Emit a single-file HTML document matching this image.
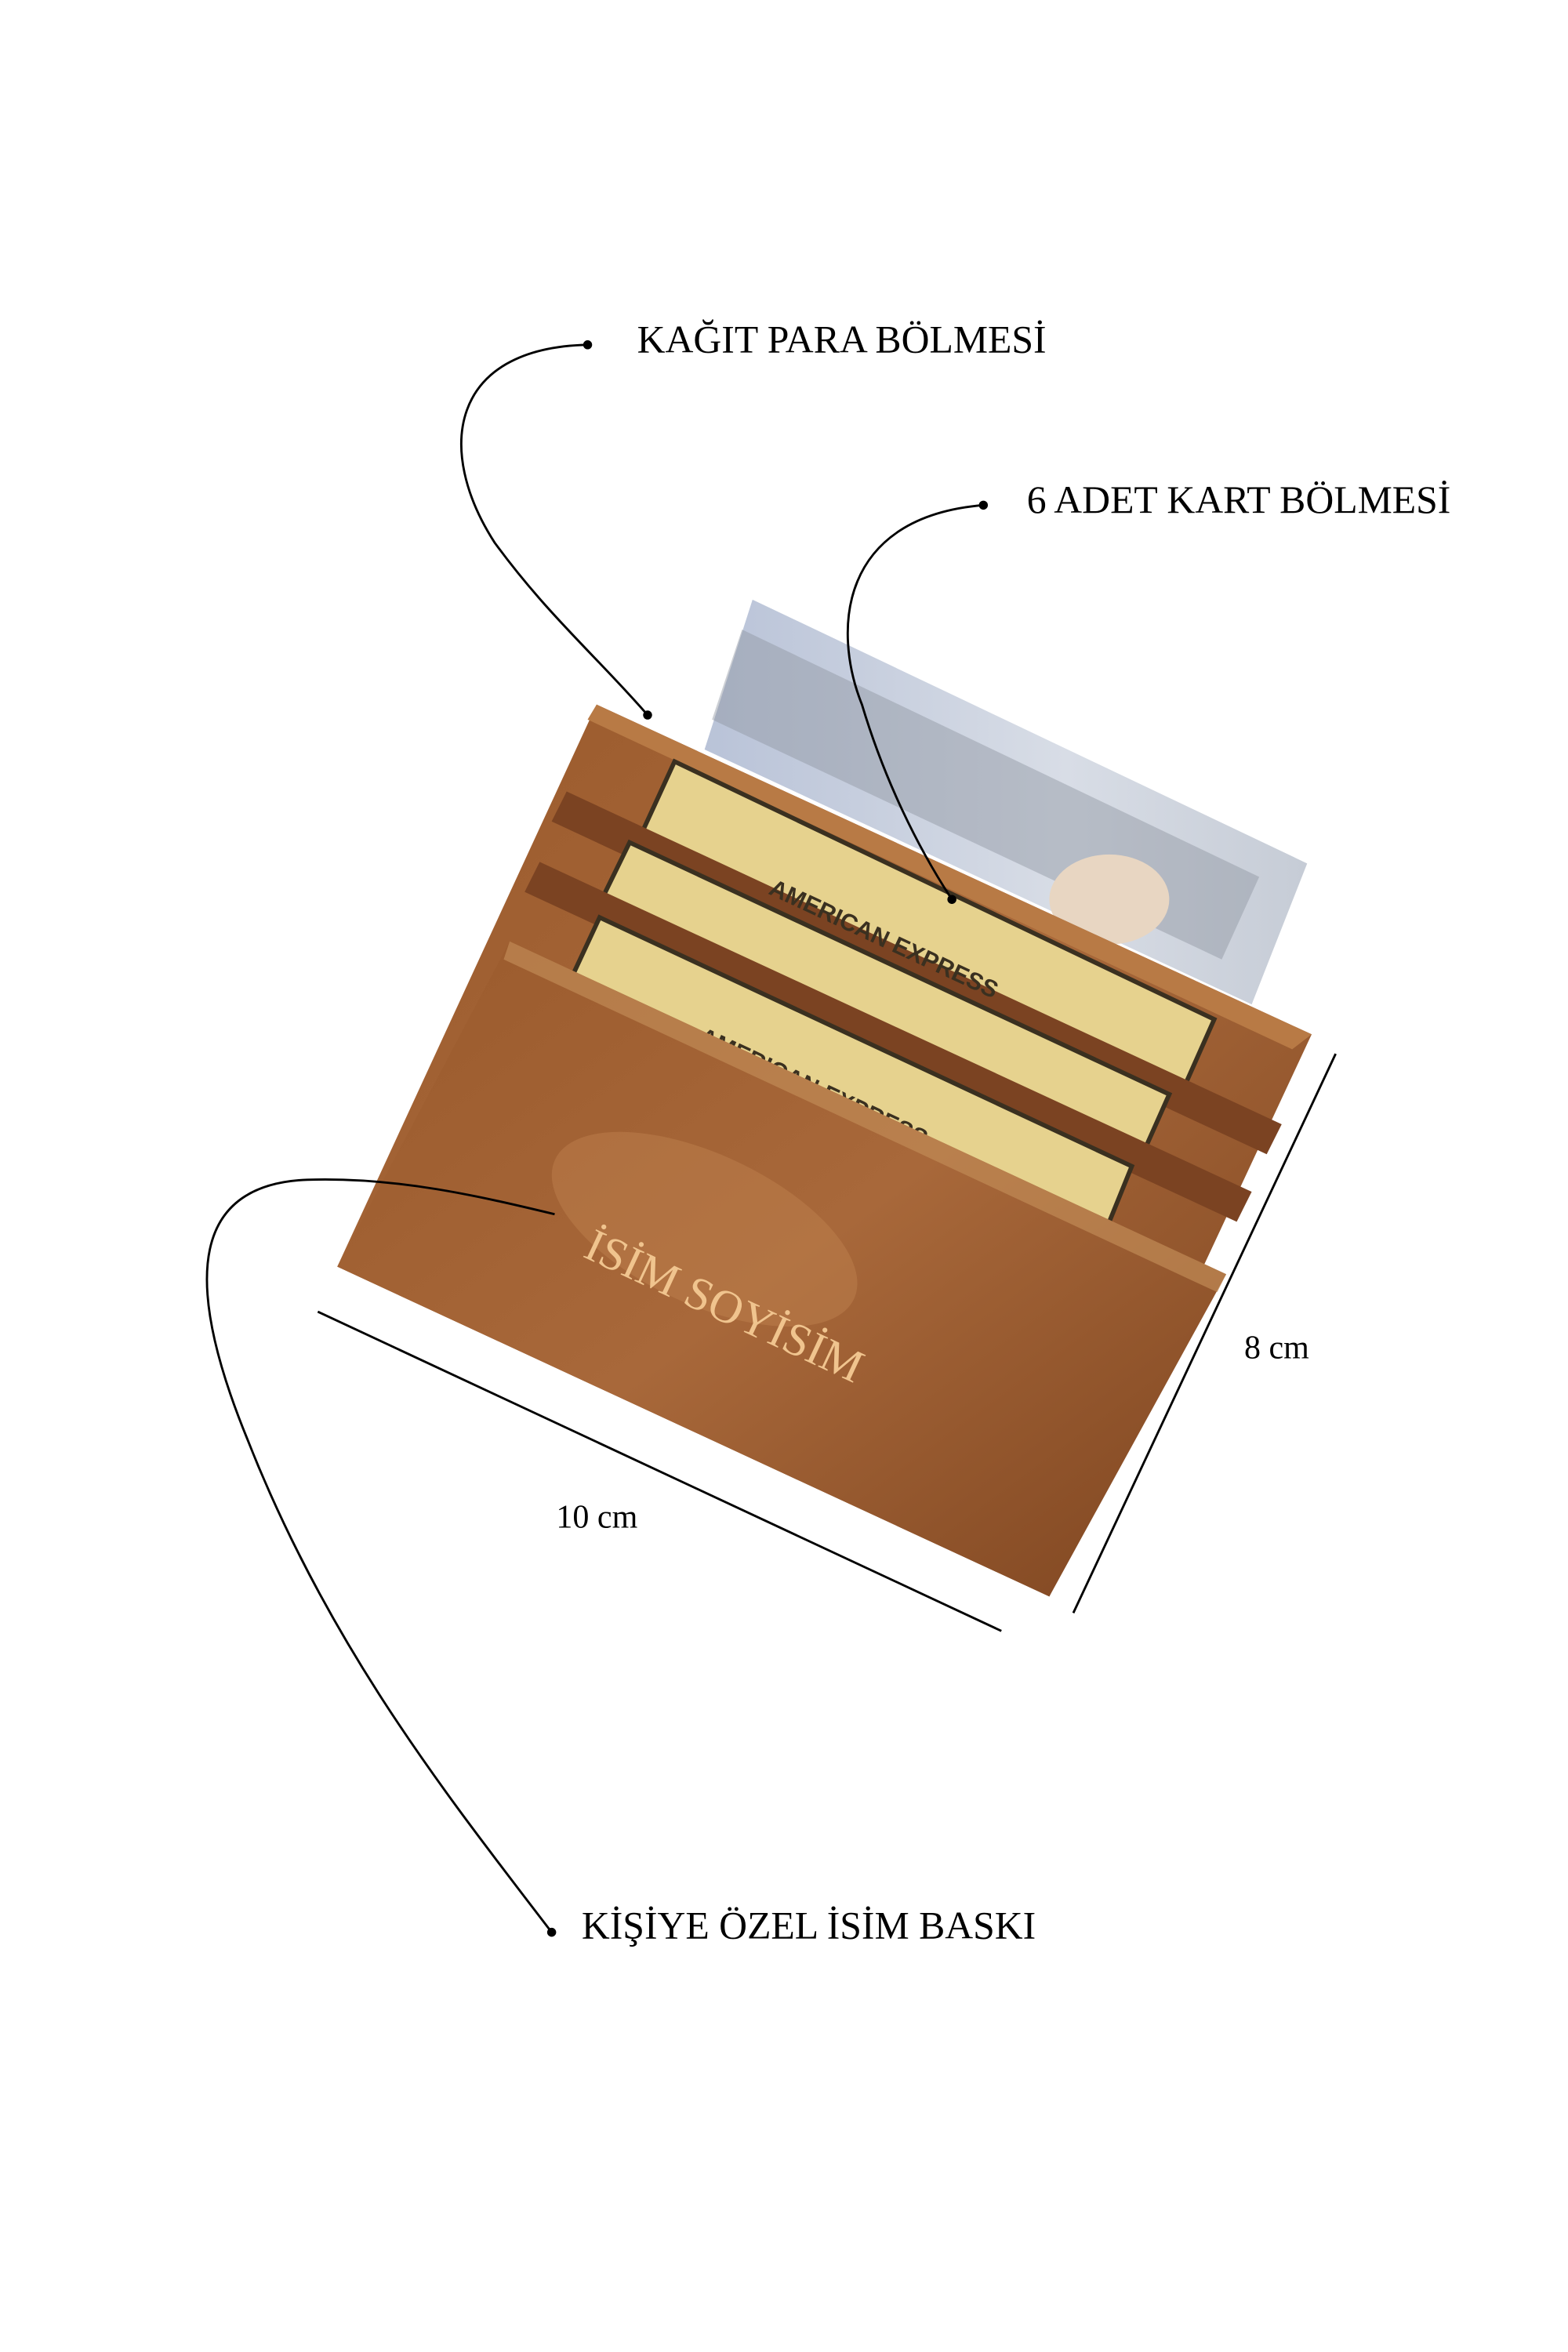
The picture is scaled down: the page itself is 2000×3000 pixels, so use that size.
<!DOCTYPE html>
<html><head><meta charset="utf-8"><style>
html,body{margin:0;padding:0;background:#fff;width:2000px;height:3000px;overflow:hidden}
svg{display:block}
text{font-family:"Liberation Serif",serif}
</style></head><body>
<svg width="2000" height="3000" viewBox="0 0 1046 1569" preserveAspectRatio="none" xmlns="http://www.w3.org/2000/svg">
<defs>
<linearGradient id="lea" x1="0" y1="0" x2="1" y2="1">
<stop offset="0" stop-color="#9a5a2c"/><stop offset="0.5" stop-color="#a8683a"/><stop offset="1" stop-color="#7e4520"/>
</linearGradient>
<linearGradient id="bill" x1="0" y1="0" x2="1" y2="0">
<stop offset="0" stop-color="#b9c3d8"/><stop offset="0.6" stop-color="#d8dde6"/><stop offset="1" stop-color="#c6ccd6"/>
</linearGradient>
</defs>
<polygon points="502,400 872,576 835,670 470,500" fill="url(#bill)"/>
<polygon points="495,420 840,585 815,640 475,480" fill="#8d94a0" opacity="0.45"/>
<ellipse cx="740" cy="600" rx="40" ry="30" fill="#e8d6c2"/>
<polygon points="398,470 875,690 700,1065 225,845" fill="url(#lea)"/>
<polygon points="398,470 875,690 862,700 392,480" fill="#b87a45"/>
<polygon points="450,508 810,680 790,725 428,556" fill="#e6d28e" stroke="#3a3020" stroke-width="3"/>
<polygon points="378,528 855,750 845,770 368,548" fill="#7b4322"/>
<polygon points="420,562 780,730 760,775 398,607" fill="#e6d28e" stroke="#3a3020" stroke-width="3"/>
<polygon points="360,575 835,795 825,815 350,595" fill="#7b4322"/>
<polygon points="400,612 755,778 738,820 380,655" fill="#e6d28e" stroke="#3a3020" stroke-width="3"/>
<text x="0" y="0" font-size="16" font-weight="bold" fill="#3a3020" transform="translate(512,596) rotate(25)" style="font-family:'Liberation Sans',sans-serif">AMERICAN EXPRESS</text>
<text x="0" y="0" font-size="16" font-weight="bold" fill="#3a3020" transform="translate(465,695) rotate(25)" style="font-family:'Liberation Sans',sans-serif">AMERICAN EXPRESS</text>
<polygon points="340,628 818,850 700,1065 225,845" fill="url(#lea)"/>
<polygon points="340,628 818,850 812,862 336,640" fill="#c08a55" opacity="0.7"/>
<ellipse cx="470" cy="820" rx="110" ry="50" fill="#c08250" opacity="0.45" transform="rotate(25 470 820)"/>
<text x="0" y="0" font-size="31" fill="#f0c48e" transform="translate(388,838) rotate(25)">İSİM SOYİSİM</text>
<g fill="none" stroke="#000" stroke-width="1.5">
<path d="M392,230 C300,232 290,300 330,362 C365,410 400,440 432,477"/>
<path d="M656,337 C560,345 555,420 575,470 C590,520 612,565 635,600"/>
<path d="M368,1289 C300,1200 220,1100 165,960 C120,850 130,790 205,787 C265,785 320,798 370,810"/>
<line x1="212" y1="875" x2="668" y2="1088"/>
<line x1="891" y1="703" x2="716" y2="1076"/>
</g>
<circle cx="392" cy="230" r="3" fill="#000"/>
<circle cx="432" cy="477" r="3" fill="#000"/>
<circle cx="656" cy="337" r="3" fill="#000"/>
<circle cx="635" cy="600" r="3" fill="#000"/>
<circle cx="368" cy="1289" r="3" fill="#000"/>
<text x="425" y="235" font-size="26">KAĞIT PARA BÖLMESİ</text>
<text x="685" y="342" font-size="26">6 ADET KART BÖLMESİ</text>
<text x="388" y="1293" font-size="26">KİŞİYE ÖZEL İSİM BASKI</text>
<text x="830" y="906" font-size="22">8 cm</text>
<text x="371" y="1019" font-size="22">10 cm</text>
</svg>
</body></html>
